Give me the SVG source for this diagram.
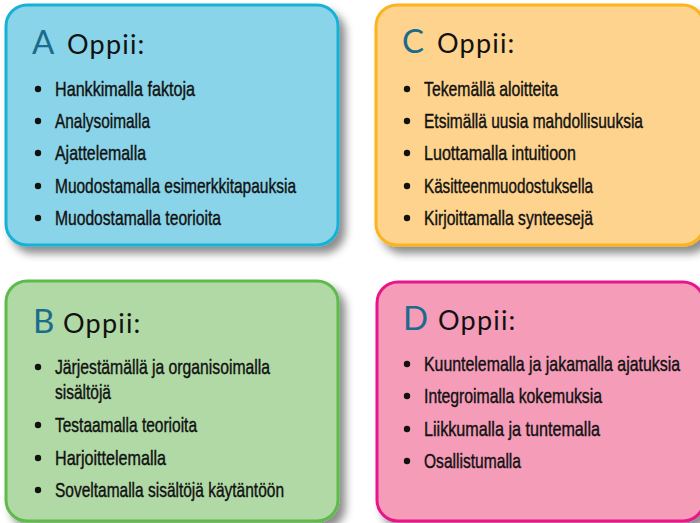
<svg xmlns="http://www.w3.org/2000/svg" width="700" height="523" viewBox="0 0 700 523">
<defs>
<filter id="sh" x="-10%" y="-10%" width="130%" height="130%">
<feDropShadow dx="6" dy="7" stdDeviation="4" flood-color="#000" flood-opacity="0.45"/>
</filter>
</defs>
<style>
.box{stroke-width:3;filter:url(#sh)}
.t{font-family:"Lato","Open Sans","DejaVu Sans",sans-serif;font-size:27px;fill:#111;letter-spacing:1.2px}
.L{font-size:33px;fill:#1a6b8c;letter-spacing:0}
.i{font-family:"Liberation Sans",Arial,sans-serif;font-size:20.5px;fill:#111;stroke:#111;stroke-width:0.4px}
.b{fill:#111}
</style>
<rect width="700" height="523" fill="#fff"/>
<g id="nodeA">
<rect class="box" x="6" y="5" width="332" height="240" rx="21" fill="#89d4e8" stroke="#17b1d4"/>
<text class="t" y="54"><tspan class="L" x="32">A</tspan><tspan x="67">Oppii:</tspan></text>
<circle class="b" cx="38" cy="89" r="3.2"/><text class="i" transform="translate(55,96) scale(0.8,1)" textLength="175" lengthAdjust="spacingAndGlyphs">Hankkimalla faktoja</text>
<circle class="b" cx="38" cy="121" r="3.2"/><text class="i" transform="translate(55,128) scale(0.8,1)" textLength="118.75" lengthAdjust="spacingAndGlyphs">Analysoimalla</text>
<circle class="b" cx="38" cy="153" r="3.2"/><text class="i" transform="translate(55,160) scale(0.8,1)" textLength="113.75" lengthAdjust="spacingAndGlyphs">Ajattelemalla</text>
<circle class="b" cx="38" cy="186" r="3.2"/><text class="i" transform="translate(55,193) scale(0.8,1)" textLength="301.25" lengthAdjust="spacingAndGlyphs">Muodostamalla esimerkkitapauksia</text>
<circle class="b" cx="38" cy="218" r="3.2"/><text class="i" transform="translate(55,225) scale(0.8,1)" textLength="207.5" lengthAdjust="spacingAndGlyphs">Muodostamalla teorioita</text>
</g>
<g id="nodeC">
<rect class="box" x="376" y="5" width="328" height="240" rx="21" fill="#fed38e" stroke="#fbb41f"/>
<text class="t" y="53"><tspan class="L" x="402">C</tspan><tspan x="437">Oppii:</tspan></text>
<circle class="b" cx="407" cy="89" r="3.2"/><text class="i" transform="translate(424,96) scale(0.8,1)" textLength="167.5" lengthAdjust="spacingAndGlyphs">Tekemällä aloitteita</text>
<circle class="b" cx="407" cy="121" r="3.2"/><text class="i" transform="translate(424,128) scale(0.8,1)" textLength="273.75" lengthAdjust="spacingAndGlyphs">Etsimällä uusia mahdollisuuksia</text>
<circle class="b" cx="407" cy="153" r="3.2"/><text class="i" transform="translate(424,160) scale(0.8,1)" textLength="190" lengthAdjust="spacingAndGlyphs">Luottamalla intuitioon</text>
<circle class="b" cx="407" cy="186" r="3.2"/><text class="i" transform="translate(424,193) scale(0.8,1)" textLength="211.25" lengthAdjust="spacingAndGlyphs">Käsitteenmuodostuksella</text>
<circle class="b" cx="407" cy="218" r="3.2"/><text class="i" transform="translate(424,225) scale(0.8,1)" textLength="211.25" lengthAdjust="spacingAndGlyphs">Kirjoittamalla synteesejä</text>
</g>
<g id="nodeB">
<rect class="box" x="6" y="281" width="332" height="240" rx="21" fill="#b0d9a5" stroke="#5dba4b"/>
<text class="t" y="333"><tspan class="L" x="33">B</tspan><tspan x="63">Oppii:</tspan></text>
<circle class="b" cx="38" cy="367" r="3.2"/><text class="i" transform="translate(55,374) scale(0.8,1)" textLength="268.75" lengthAdjust="spacingAndGlyphs">Järjestämällä ja organisoimalla</text>
<text class="i" transform="translate(55,399) scale(0.8,1)" textLength="70" lengthAdjust="spacingAndGlyphs">sisältöjä</text>
<circle class="b" cx="38" cy="425" r="3.2"/><text class="i" transform="translate(55,432) scale(0.8,1)" textLength="177.5" lengthAdjust="spacingAndGlyphs">Testaamalla teorioita</text>
<circle class="b" cx="38" cy="458" r="3.2"/><text class="i" transform="translate(55,465) scale(0.8,1)" textLength="138.75" lengthAdjust="spacingAndGlyphs">Harjoittelemalla</text>
<circle class="b" cx="38" cy="490" r="3.2"/><text class="i" transform="translate(55,497) scale(0.8,1)" textLength="286.25" lengthAdjust="spacingAndGlyphs">Soveltamalla sisältöjä käytäntöön</text>
</g>
<g id="nodeD">
<rect class="box" x="377" y="282" width="327" height="239" rx="21" fill="#f59cb8" stroke="#e8188b"/>
<text class="t" y="330"><tspan class="L" x="403">D</tspan><tspan x="438">Oppii:</tspan></text>
<circle class="b" cx="407" cy="364" r="3.2"/><text class="i" transform="translate(424,371) scale(0.8,1)" textLength="320" lengthAdjust="spacingAndGlyphs">Kuuntelemalla ja jakamalla ajatuksia</text>
<circle class="b" cx="407" cy="396" r="3.2"/><text class="i" transform="translate(424,403) scale(0.8,1)" textLength="222.5" lengthAdjust="spacingAndGlyphs">Integroimalla kokemuksia</text>
<circle class="b" cx="407" cy="429" r="3.2"/><text class="i" transform="translate(424,436) scale(0.8,1)" textLength="220" lengthAdjust="spacingAndGlyphs">Liikkumalla ja tuntemalla</text>
<circle class="b" cx="407" cy="461" r="3.2"/><text class="i" transform="translate(424,468) scale(0.8,1)" textLength="121.25" lengthAdjust="spacingAndGlyphs">Osallistumalla</text>
</g>
<g id="connectors"></g>
</svg>
